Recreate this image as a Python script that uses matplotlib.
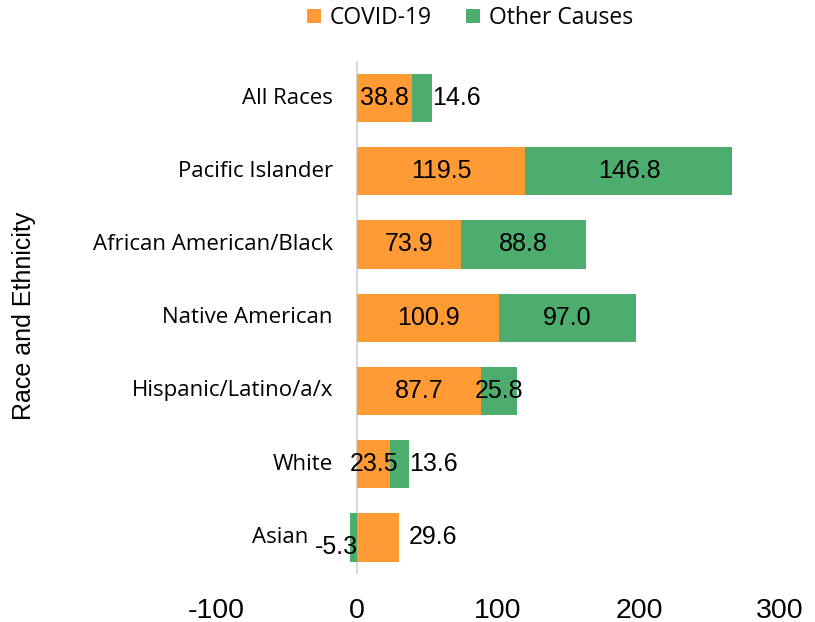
import matplotlib.pyplot as plt
import numpy as np

categories = ["All Races", "Pacific Islander", "African American/Black", "Native American",
              "Hispanic/Latino/a/x", "White", "Asian"]
covid = [38.8, 119.5, 73.9, 100.9, 87.7, 23.5, 29.6]
other = [14.6, 146.8, 88.8, 97.0, 25.8, 13.6, -5.3]
x_ticks = [-100, 0, 100, 200, 300]

ORANGE = "#FF9A35"
GREEN = "#4DAD6F"
CAT_FONT = "Open Sans"
NUM_FONT = "Liberation Sans"

fig = plt.figure(figsize=(8.15, 6.22), dpi=100)
ax = fig.add_axes([216 / 815, 1 - 574 / 622, 564 / 815, (574 - 61.4) / 622])

y = np.arange(len(categories))[::-1]
covid = np.array(covid)
other = np.array(other)
# negative values stack from zero, positives on top of covid
other_left = np.where(other < 0, 0, covid)

ax.barh(y, covid, height=0.66, color=ORANGE, label="COVID-19", zorder=2)
ax.barh(y, other, left=other_left, height=0.66, color=GREEN, label="Other Causes", zorder=2)

ax.set_xlim(-100, 300)
ax.set_ylim(-0.5, len(categories) - 0.5)
ax.set_xticks(x_ticks)
ax.set_xticklabels([str(t) for t in x_ticks], fontsize=20.5, family=NUM_FONT)
ax.tick_params(axis="x", length=0, pad=17)
ax.set_yticks([])
for s in ["top", "right", "bottom", "left"]:
    ax.spines[s].set_visible(False)
ax.axvline(0, color="#D9D9D9", lw=1.5, zorder=1)

# category labels next to the zero line
for yi, cat, o in zip(y, categories, other):
    off = -24 if o >= 0 else -49
    ax.annotate(cat, xy=(0, yi), xytext=(off * 0.72, 0), textcoords="offset points",
                ha="right", va="center", fontsize=16, family=CAT_FONT)

# value labels
lab_kw = dict(fontsize=18, family=NUM_FONT, va="center", zorder=3)
for yi, c, o in zip(y, covid, other):
    if o < 0:
        ax.annotate(f"{c:.1f}", xy=(c, yi), xytext=(7, 0), textcoords="offset points",
                    ha="left", **lab_kw)
        ax.annotate(f"{o:.1f}", xy=(0, yi - 0.13), xytext=(1, 0), textcoords="offset points",
                    ha="right", **lab_kw)
        continue
    ax.text(c / 2, yi, f"{c:.1f}", ha="center", **lab_kw)
    if o < 20:
        ax.annotate(f"{o:.1f}", xy=(c + o, yi), xytext=(0, 0), textcoords="offset points",
                    ha="left", **lab_kw)
    else:
        ax.text(c + o / 2, yi, f"{o:.1f}", ha="center", **lab_kw)

fig.text(24 / 815, 1 - 316 / 622, "Race and Ethnicity", rotation=90, ha="center", va="center",
         fontsize=18, family=NUM_FONT)

fig.legend(loc="center", bbox_to_anchor=(470 / 815, 1 - 18 / 622), ncol=2, frameon=False,
           prop={"family": CAT_FONT, "size": 16.5}, handlelength=0.6, handleheight=0.6,
           columnspacing=1.5, handletextpad=0.4)

fig.savefig("out.png", dpi=100)
